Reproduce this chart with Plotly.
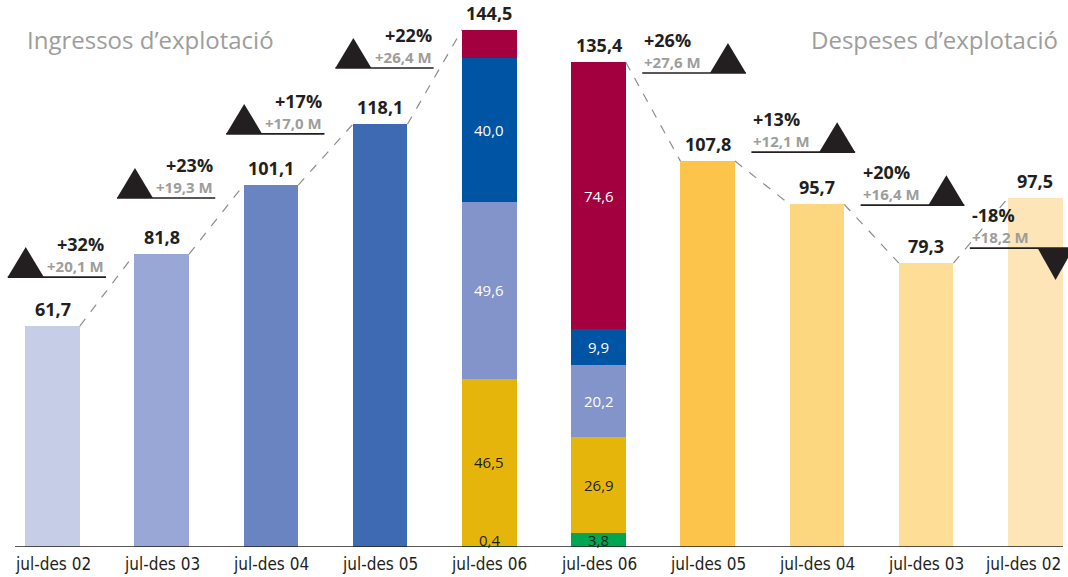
import plotly.graph_objects as go

# ---------------- data ----------------
tick_labels = ["jul-des 02", "jul-des 03", "jul-des 04", "jul-des 05", "jul-des 06",
               "jul-des 06", "jul-des 05", "jul-des 04", "jul-des 03", "jul-des 02"]
income_totals = [61.7, 81.8, 101.1, 118.1]          # jul-des 02 .. 05
expense_totals = [107.8, 95.7, 79.3, 97.5]          # jul-des 05 .. 02
income_06 = [0.4, 46.5, 49.6, 40.0, 8.0]            # stacked components (bottom -> top)
expense_06 = [3.8, 26.9, 20.2, 9.9, 74.6]
income_06_labels = ["0,4", "46,5", "49,6", "40,0", ""]
expense_06_labels = ["3,8", "26,9", "20,2", "9,9", "74,6"]
pct_labels = ["+32%", "+23%", "+17%", "+22%", "+26%", "+13%", "+20%", "-18%"]
delta_labels = ["+20,1 M", "+19,3 M", "+17,0 M", "+26,4 M", "+27,6 M", "+12,1 M", "+16,4 M", "+18,2 M"]
directions = ["up", "up", "up", "up", "up", "up", "up", "down"]

# ---------------- styles ----------------
income_colors = ["#C6CDE7", "#98A7D5", "#6A83C1", "#3D6AB3"]
expense_colors = ["#FDC44C", "#FDD680", "#FEDD97", "#FEE5B7"]
comp_colors = ["#00A651", "#E5B50B", "#8294CA", "#0054A4", "#A3003F"]
comp_text_colors = ["#231F20", "#231F20", "white", "white", "white"]
badge_levels = [75.4, 97.5, 115.4, 133.8, 132.4, 110.3, 95.5, 83.5]
DARK = "#231F20"
GREY = "#9D9D9C"
BOLD = "Open Sans"
TICKFONT = "Liberation Sans Narrow, DejaVu Sans Condensed, Arial Narrow"
BW = 0.5
W, H = 1068, 577

n_inc = len(income_totals)
x_inc = list(range(n_inc))
x_stack = [n_inc, n_inc + 1]
x_exp = list(range(n_inc + 2, n_inc + 2 + len(expense_totals)))

fig = go.Figure()
fig.add_trace(go.Bar(x=x_inc, y=income_totals, marker=dict(color=income_colors, line_width=0),
                     width=BW, hoverinfo="skip"))
for j in range(len(income_06)):
    fig.add_trace(go.Bar(x=x_stack, y=[income_06[j], expense_06[j]],
                         marker=dict(color=comp_colors[j], line_width=0), width=BW, hoverinfo="skip"))
fig.add_trace(go.Bar(x=x_exp, y=expense_totals, marker=dict(color=expense_colors, line_width=0),
                     width=BW, hoverinfo="skip"))

totals = income_totals + [sum(income_06), sum(expense_06)] + expense_totals
totals = [round(t, 1) for t in totals]

def fmt(v):
    return f"{v:.1f}".replace(".", ",")

ann = []
shapes = []
# baseline (axis line)
shapes.append(dict(type="line", xref="paper", yref="y", x0=15 / W, x1=1063 / W, y0=0, y1=0,
                   line=dict(color=DARK, width=1.5), layer="above"))
# category labels under the axis
last = len(tick_labels) - 1
for i, lab in enumerate(tick_labels):
    a = dict(x=i, xref="x", y=0, yref="paper", text=lab, showarrow=False,
             yanchor="top", yshift=-5, font=dict(family=TICKFONT, size=17, color=DARK))
    if i == last:
        a.update(xanchor="right", xshift=28)
    ann.append(a)
# total labels
for i, t in enumerate(totals):
    ann.append(dict(x=i, y=t, text=f"<b>{fmt(t)}</b>", showarrow=False, yanchor="bottom",
                    yshift=3, font=dict(family=BOLD, size=18, color=DARK)))

# segment labels
for xs, comps, labels in [(x_stack[0], income_06, income_06_labels), (x_stack[1], expense_06, expense_06_labels)]:
    base = 0
    for j, v in enumerate(comps):
        if labels[j]:
            yl = max(base + v / 2, 2.0)
            ann.append(dict(x=xs, y=yl, text=labels[j], showarrow=False,
                            font=dict(family="Open Sans", size=15, color=comp_text_colors[j])))
        base += v

# connecting dashed lines
pairs = [(0, 1), (1, 2), (2, 3), (3, 4), (5, 6), (6, 7), (7, 8), (8, 9)]
for (a, b) in pairs:
    shapes.append(dict(type="line", x0=a + BW / 2, y0=totals[a], x1=b - BW / 2, y1=totals[b],
                       line=dict(color="#8C8C8C", width=1.2, dash="dash"), layer="above"))

# change badges
for g, (a, b) in enumerate(pairs):
    lvl = badge_levels[g]
    left_side = b <= n_inc
    if left_side:
        xs0, xs1 = a - 0.41, a + 0.49
        tx, txa = xs1, "right"
        tri_anchor = xs0
        path = "M 0,0 L 36,0 L 18,30 Z"
    else:
        xs0, xs1 = a + 0.4, a + 1.35
        tx, txa = xs0, "left"
        tri_anchor = xs1
        path = "M -36,0 L 0,0 L -18,30 Z" if directions[g] == "up" else "M -36,0 L 0,0 L -18,-32 Z"
    shapes.append(dict(type="line", x0=xs0, x1=xs1, y0=lvl, y1=lvl, line=dict(color=DARK, width=1.6)))
    shapes.append(dict(type="path", xsizemode="pixel", ysizemode="pixel", xanchor=tri_anchor,
                       yanchor=lvl, path=path, fillcolor=DARK, line=dict(color=DARK, width=0)))
    ann.append(dict(x=tx, y=lvl, text=f"<b>{pct_labels[g]}</b>", showarrow=False, xanchor=txa,
                    yanchor="middle", yshift=33, font=dict(family=BOLD, size=18, color=DARK)))
    ann.append(dict(x=tx, y=lvl, text=f"<b>{delta_labels[g]}</b>", showarrow=False, xanchor=txa,
                    yanchor="middle", yshift=11, font=dict(family=BOLD, size=15, color=GREY)))

# titles
ann.append(dict(xref="paper", yref="paper", x=25 / W, y=0.927, xanchor="left", yanchor="middle",
                text="Ingressos d’explotació", showarrow=False,
                font=dict(family="Open Sans", size=24, color=GREY)))
ann.append(dict(xref="paper", yref="paper", x=1060 / W, y=0.927, xanchor="right", yanchor="middle",
                text="Despeses d’explotació", showarrow=False,
                font=dict(family="Open Sans", size=24, color=GREY)))

fig.update_layout(
    width=W, height=H,
    margin=dict(l=0, r=0, t=0, b=30),
    barmode="stack", bargap=0,
    showlegend=False,
    plot_bgcolor="white", paper_bgcolor="white",
    annotations=ann, shapes=shapes,
    xaxis=dict(range=[-0.481, 9.299], showticklabels=False, showgrid=False, zeroline=False,
               showline=False, ticks="", fixedrange=True),
    yaxis=dict(range=[0, 152.8], showgrid=False, zeroline=False, showticklabels=False,
               showline=False, fixedrange=True),
)

fig.write_html("out.html", config={"displayModeBar": False},
               post_script="document.body.style.margin='0';")
